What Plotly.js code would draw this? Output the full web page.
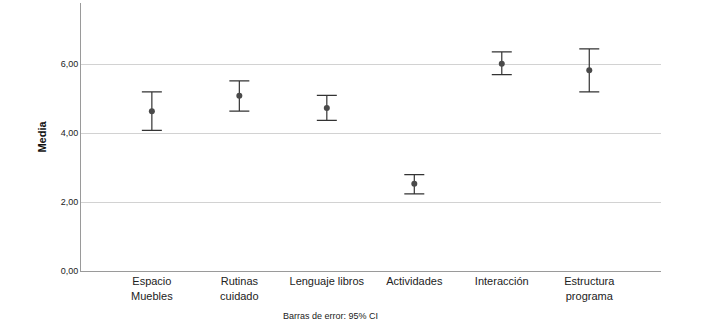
<!DOCTYPE html>
<html>
<head>
<meta charset="utf-8">
<script src="https://cdn.plot.ly/plotly-3.0.1.min.js"></script>
<style>html,body{margin:0;padding:0;background:#fff;}#chart{width:709px;height:330px;}</style>
</head>
<body>
<div id="chart"></div>
<script>
const categories = ["Espacio<br>Muebles", "Rutinas<br>cuidado", "Lenguaje libros", "Actividades", "Interacción", "Estructura<br>programa"];
const means = [4.64, 5.09, 4.73, 2.53, 6.02, 5.83];
const upper = [5.20, 5.52, 5.10, 2.80, 6.36, 6.45];
const lower = [4.08, 4.64, 4.37, 2.24, 5.70, 5.20];
const yTicks = [0, 2, 4, 6];

const plus = means.map((m, i) => upper[i] - m);
const minus = means.map((m, i) => m - lower[i]);

const trace = {
  type: "scatter",
  mode: "markers",
  x: categories.map((c, i) => i),
  y: means,
  marker: {color: "#4a4a4a", size: 6},
  error_y: {type: "data", symmetric: false, array: plus, arrayminus: minus, color: "#333333", thickness: 1.2, width: 10},
  hoverinfo: "skip"
};

const layout = {
  width: 709, height: 330,
  margin: {l: 81, r: 48, t: 3, b: 59},
  paper_bgcolor: "#fff", plot_bgcolor: "#fff",
  separators: ",.",
  showlegend: false,
  font: {family: "Liberation Sans, Arial, sans-serif", color: "#222"},
  xaxis: {
    range: [-0.81, 5.82],
    showgrid: false, zeroline: false,
    showline: true, linecolor: "#9a9a9a", linewidth: 1,
    ticks: "", tickfont: {size: 11, color: "#222"},
    tickvals: categories.map((c, i) => i), ticktext: categories
  },
  yaxis: {
    range: [0, 7.78],
    tickvals: yTicks, tickformat: ".2f",
    showgrid: true, gridcolor: "#d2d2d2", gridwidth: 1,
    zeroline: false, showline: true, linecolor: "#9a9a9a", linewidth: 1,
    ticks: "", ticklen: 0, tickfont: {size: 9, color: "#222"},
    title: {text: "<b>Media</b>", font: {size: 11, color: "#111"}, standoff: 11}
  },
  annotations: [{
    text: "Barras de error: 95% CI",
    xref: "paper", yref: "paper",
    x: (330 - 81) / 580, y: -0.168,
    xanchor: "center", yanchor: "middle",
    showarrow: false, font: {size: 9, color: "#222"}
  }]
};

Plotly.newPlot("chart", [trace], layout, {staticPlot: true, displayModeBar: false});
</script>
</body>
</html>
